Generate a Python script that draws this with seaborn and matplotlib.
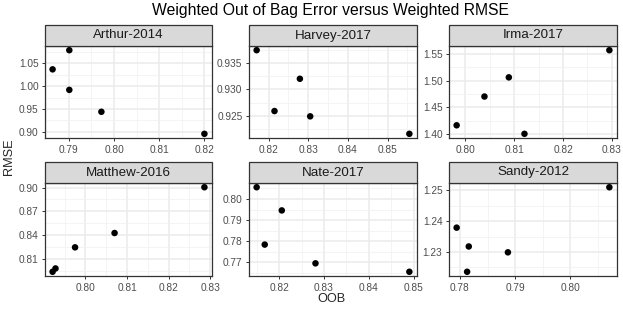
import matplotlib
matplotlib.use("Agg")
import matplotlib.pyplot as plt
from matplotlib.patches import Rectangle
from matplotlib.ticker import FixedLocator, AutoMinorLocator
import pandas as pd
import seaborn as sns

# --- data ---
storms = ["Arthur-2014", "Harvey-2017", "Irma-2017",
          "Matthew-2016", "Nate-2017", "Sandy-2012"]

arthur_oob = [0.7864, 0.7901, 0.7901, 0.7972, 0.8200]
arthur_rmse = [1.037, 1.079, 0.992, 0.944, 0.8957]
harvey_oob = [0.8170, 0.8215, 0.8279, 0.8305, 0.8555]
harvey_rmse = [0.9374, 0.9259, 0.9320, 0.9249, 0.9216]
irma_oob = [0.7982, 0.8039, 0.8089, 0.8121, 0.8295]
irma_rmse = [1.416, 1.470, 1.506, 1.400, 1.557]
matthew_oob = [0.7921, 0.7928, 0.7975, 0.8070, 0.8286]
matthew_rmse = [0.7935, 0.7977, 0.8244, 0.8425, 0.9004]
nate_oob = [0.8150, 0.8168, 0.8206, 0.8281, 0.8490]
nate_rmse = [0.8056, 0.7784, 0.7946, 0.7695, 0.7655]
sandy_oob = [0.7794, 0.7813, 0.7816, 0.7887, 0.8071]
sandy_rmse = [1.2379, 1.2236, 1.2318, 1.2299, 1.2510]

# tick labels per panel
x_ticks = [[0.79, 0.80, 0.81, 0.82], [0.82, 0.83, 0.84, 0.85],
           [0.80, 0.81, 0.82, 0.83], [0.80, 0.81, 0.82, 0.83],
           [0.82, 0.83, 0.84, 0.85], [0.78, 0.79, 0.80]]
y_ticks = [[0.90, 0.95, 1.00, 1.05], [0.925, 0.930, 0.935],
           [1.40, 1.45, 1.50, 1.55], [0.81, 0.84, 0.87, 0.90],
           [0.77, 0.78, 0.79, 0.80], [1.23, 1.24, 1.25]]
x_fmt = ["%.2f", "%.2f", "%.2f", "%.2f", "%.2f", "%.2f"]
y_fmt = ["%.2f", "%.3f", "%.2f", "%.2f", "%.2f", "%.2f"]

oob = [arthur_oob, harvey_oob, irma_oob, matthew_oob, nate_oob, sandy_oob]
rmse = [arthur_rmse, harvey_rmse, irma_rmse, matthew_rmse, nate_rmse, sandy_rmse]

rows = []
for name, xs, ys in zip(storms, oob, rmse):
    for x, y in zip(xs, ys):
        rows.append({"storm": name, "OOB": x, "RMSE": y})
df = pd.DataFrame(rows)

sns.set_theme(style="white")
plt.rcParams["font.family"] = ["Liberation Sans", "DejaVu Sans"]

W, H = 623, 312
fig = plt.figure(figsize=(W / 100, H / 100), dpi=100)

# panel layout in pixels (left, right) / (strip top, panel top, panel bottom)
cols = [(45, 212), (249, 417), (449, 617)]
rws = [(25, 46, 138), (162, 183, 276)]

for i, name in enumerate(storms):
    r, c = divmod(i, 3)
    x0, x1 = cols[c]
    st, pt, pb = rws[r]
    ax = fig.add_axes([x0 / W, 1 - pb / H, (x1 - x0) / W, (pb - pt) / H])
    sub = df[df["storm"] == name]
    sns.scatterplot(data=sub, x="OOB", y="RMSE", ax=ax, color="black",
                    s=22, edgecolor="none", zorder=3)
    ax.margins(0.05)
    ax.xaxis.set_major_locator(FixedLocator(x_ticks[i]))
    ax.yaxis.set_major_locator(FixedLocator(y_ticks[i]))
    ax.xaxis.set_major_formatter(matplotlib.ticker.FormatStrFormatter(x_fmt[i]))
    ax.yaxis.set_major_formatter(matplotlib.ticker.FormatStrFormatter(y_fmt[i]))
    ax.xaxis.set_minor_locator(AutoMinorLocator(2))
    ax.yaxis.set_minor_locator(AutoMinorLocator(2))
    ax.grid(which="major", color="#EBEBEB", linewidth=1.1)
    ax.grid(which="minor", color="#F2F2F2", linewidth=0.6)
    ax.set_axisbelow(True)
    ax.tick_params(which="major", length=2.5, width=0.7, color="#333333",
                   labelcolor="#4D4D4D", labelsize=7.3, pad=2.2,
                   bottom=True, left=True)
    ax.tick_params(which="minor", length=0)
    for sp in ax.spines.values():
        sp.set_color("#333333")
        sp.set_linewidth(0.9)
    ax.set_xlabel("")
    ax.set_ylabel("")

    # facet strip
    sh = (pt - st) / (pb - pt)
    ax.add_patch(Rectangle((0, 1), 1, sh, transform=ax.transAxes,
                           facecolor="#D9D9D9", edgecolor="#333333",
                           linewidth=0.9, clip_on=False, zorder=5))
    ax.text(0.5, 1 + sh / 2, name, transform=ax.transAxes, ha="center",
            va="center", fontsize=9.6, color="#1A1A1A", zorder=6)

fig.text(331 / W, 1 - 10 / H, "Weighted Out of Bag Error versus Weighted RMSE",
         ha="center", va="center", fontsize=11.3, color="black")
fig.text(331 / W, 1 - 298.5 / H, "OOB", ha="center", va="center", fontsize=9.2)
fig.text(9 / W, 1 - 157 / H, "RMSE", ha="center", va="center", fontsize=9.2,
         rotation=90)

fig.savefig("out.png", dpi=100)
